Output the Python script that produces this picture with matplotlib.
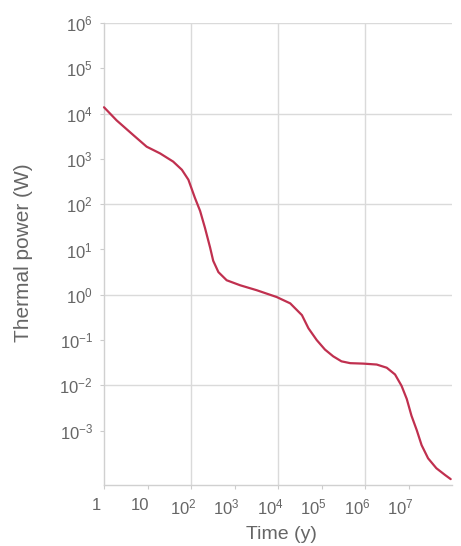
import matplotlib
matplotlib.use("Agg")
import matplotlib.pyplot as plt
import matplotlib.transforms as mtransforms
from matplotlib.ticker import FixedLocator, NullLocator

plt.rcParams['font.family'] = ['Liberation Sans', 'DejaVu Sans']
plt.rcParams['mathtext.fontset'] = 'custom'
plt.rcParams['mathtext.rm'] = 'Liberation Sans'
plt.rcParams['mathtext.it'] = 'Liberation Sans'

# Data (time in years, thermal power in W)
time_years = [1, 1.95, 4.79, 9.55, 19.5, 38.9, 61.7, 87.1, 123, 162, 209, 275,
              324, 427, 661, 1350, 3240, 9330, 19100, 35500, 50100, 77600,
              1.20e5, 1.86e5, 2.88e5, 4.57e5, 9.12e5, 1.86e6, 3.16e6, 4.90e6,
              6.92e6, 9.12e6, 1.17e7, 1.55e7, 2.0e7, 2.82e7, 4.37e7, 6.92e7,
              9.33e7]
power_w = [13800, 7080, 3310, 1860, 1320, 871, 575, 347, 138, 70.8, 30.2, 11.0,
           5.62, 3.16, 2.09, 1.62, 1.26, 0.891, 0.646, 0.355, 0.182, 0.100,
           0.0617, 0.0437, 0.0339, 0.0309, 0.0302, 0.0288, 0.0245, 0.0174,
           0.00977, 0.00501, 0.00214, 0.00102, 4.79e-4, 2.45e-4, 1.48e-4,
           1.05e-4, 8.51e-5]

x_ticks = [1, 10, 1e2, 1e3, 1e4, 1e5, 1e6, 1e7]
x_labels = ['1', '10', '$10^{2}$', '$10^{3}$', '$10^{4}$', '$10^{5}$', '$10^{6}$', '$10^{7}$']
y_ticks = [1e6, 1e5, 1e4, 1e3, 1e2, 1e1, 1e0, 1e-1, 1e-2, 1e-3]
y_labels = ['$10^{6}$', '$10^{5}$', '$10^{4}$', '$10^{3}$', '$10^{2}$', '$10^{1}$',
            '$10^{0}$', '$10^{-1}$', '$10^{-2}$', '$10^{-3}$']
x_grid = [1e2, 1e4, 1e6]
y_grid = [1e6, 1e4, 1e2, 1e0, 1e-2]

W, H = 461, 546
fig = plt.figure(figsize=(W / 100, H / 100), dpi=100)
ax = fig.add_axes([104 / W, 1 - 485 / H, (452 - 104) / W, (485 - 23) / H])

ax.set_xscale('log')
ax.set_yscale('log')
ax.set_xlim(1, 1e8)
ax.set_ylim(10 ** -4.2, 1e6)

grid_c = '#dadada'
for gx in x_grid:
    ax.axvline(gx, color=grid_c, lw=1.0, zorder=1)
for gy in y_grid:
    ax.axhline(gy, color=grid_c, lw=1.0, zorder=1)

ax.plot(time_years, power_w, color='#c0304f', lw=1.6, zorder=3,
        solid_joinstyle='round', solid_capstyle='round', clip_on=False)

ax.xaxis.set_major_locator(FixedLocator(x_ticks))
ax.xaxis.set_minor_locator(NullLocator())
ax.set_xticklabels(x_labels)
ax.yaxis.set_major_locator(FixedLocator(y_ticks))
ax.yaxis.set_minor_locator(NullLocator())
ax.set_yticklabels(y_labels)

txt_c = '#666666'
ax.tick_params(axis='both', which='major', labelsize=12, colors=txt_c,
               length=3, width=0.8, color='#cccccc')
ax.tick_params(axis='y', pad=5)
ax.tick_params(axis='x', pad=6)

# the reference's x tick labels sit slightly left of their ticks
shift = mtransforms.ScaledTranslation(-8 / 100, 0, fig.dpi_scale_trans)
for lab in ax.get_xticklabels():
    lab.set_transform(lab.get_transform() + shift)

for s in ['top', 'right']:
    ax.spines[s].set_visible(False)
for s in ['left', 'bottom']:
    ax.spines[s].set_color('#d0d0d0')
    ax.spines[s].set_linewidth(1.0)

ax.set_xlabel('Time (y)', fontsize=14, color=txt_c)
ax.set_ylabel('Thermal power (W)', fontsize=15, color=txt_c)
ax.xaxis.set_label_coords((281 - 104) / (452 - 104), -(526 - 485) / (485 - 23))
ax.yaxis.set_label_coords(-(104 - 33) / (452 - 104), (485 - 253) / (485 - 23))

fig.savefig('out.png', dpi=100)
